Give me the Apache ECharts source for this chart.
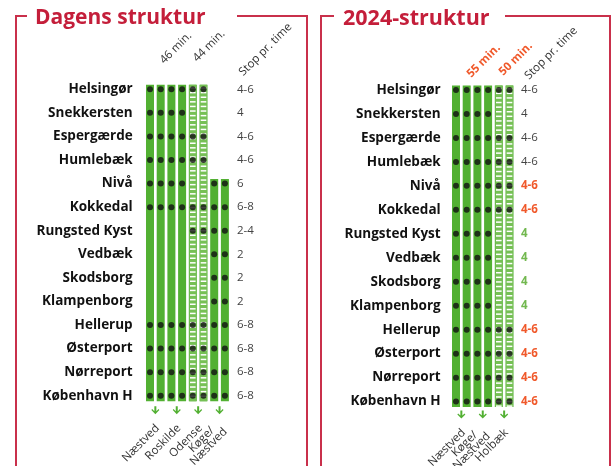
<!DOCTYPE html>
<html>
<head>
<meta charset="utf-8">
<script src="https://cdn.jsdelivr.net/npm/echarts@6/dist/echarts.min.js"></script>
<style>
html, body { margin: 0; padding: 0; background: #fff; }
#chart { width: 616px; height: 466px; }
</style>
</head>
<body>
<div id="chart"></div>
<script>
// stationer fra Helsingør til København H
var stations = ['Helsingør', 'Snekkersten', 'Espergærde', 'Humlebæk', 'Nivå', 'Kokkedal',
    'Rungsted Kyst', 'Vedbæk', 'Skodsborg', 'Klampenborg', 'Hellerup', 'Østerport',
    'Nørreport', 'København H'];

// Dagens struktur
var leftColFirstStation = [0, 0, 0, 0, 0, 0, 4, 4];
var leftColHourly = [0, 0, 0, 0, 1, 1, 0, 0];
var leftStops = [
    [0, 1, 2, 3, 4, 5], [0, 1, 2, 3], [0, 1, 2, 3, 4, 5], [0, 1, 2, 3, 4, 5],
    [0, 1, 2, 3, 6, 7], [0, 1, 2, 3, 4, 5, 6, 7], [4, 5, 6, 7], [6, 7], [6, 7], [6, 7],
    [0, 1, 2, 3, 4, 5, 6, 7], [0, 1, 2, 3, 4, 5, 6, 7], [0, 1, 2, 3, 4, 5, 6, 7],
    [0, 1, 2, 3, 4, 5, 6, 7]
];
var leftStopsPerHour = ['4-6', '4', '4-6', '4-6', '6', '6-8', '2-4', '2', '2', '2', '6-8', '6-8', '6-8', '6-8'];
var leftDestinations = ['Næstved', 'Roskilde', 'Odense', 'Køge/\nNæstved'];
var leftHeaders = ['46 min.', '44 min.', 'Stop pr. time'];

// 2024-struktur
var rightColFirstStation = [0, 0, 0, 0, 0, 0];
var rightColHourly = [0, 0, 0, 0, 1, 1];
var rightStops = [
    [0, 1, 2, 3, 4, 5], [0, 1, 2, 3], [0, 1, 2, 3, 4, 5], [0, 1, 2, 3, 4, 5],
    [0, 1, 2, 3, 4, 5], [0, 1, 2, 3, 4, 5], [0, 1, 2, 3], [0, 1, 2, 3], [0, 1, 2, 3],
    [0, 1, 2, 3], [0, 1, 2, 3, 4, 5], [0, 1, 2, 3, 4, 5], [0, 1, 2, 3, 4, 5],
    [0, 1, 2, 3, 4, 5]
];
var rightStopsPerHour = ['4-6', '4', '4-6', '4-6', '4-6', '4-6', '4', '4', '4', '4', '4-6', '4-6', '4-6', '4-6'];
var rightChange = [0, 0, 0, 0, -1, -1, 1, 1, 1, 1, -1, -1, -1, -1]; // -1 færre, 1 flere
var rightDestinations = ['Næstved', 'Køge/\nNæstved', 'Holbæk'];
var rightHeaders = ['55 min.', '50 min.', 'Stop pr. time'];

var GREEN = '#52b032';
var RED = '#c41e3a';
var ORANGE = '#f0592b';
var FONT = '"Open Sans", sans-serif';
var last = stations.length - 1;

var chart = echarts.init(document.getElementById('chart'));
var measureCtx = document.createElement('canvas').getContext('2d');

function columnItem(firstStation, hourly) {
    return function(params, api) {
        var i = params.dataIndex;
        var top = api.coord([i, firstStation[i]]);
        var bot = api.coord([i, last]);
        var x = top[0] - 4, y = top[1] - 4.5, h = bot[1] + 5.5 - y;
        var children = [{ type: 'rect', shape: { x: x, y: y, width: 8, height: h }, style: { fill: GREEN } }];
        if (hourly[i]) {
            children.push({ type: 'rect', shape: { x: x + 0.5, y: y, width: 7, height: h }, style: { fill: '#76c055' } });
            for (var yy = y + 2.5; yy < y + h - 1.5; yy += 4.6) {
                children.push({ type: 'rect', shape: { x: x + 1.2, y: yy, width: 5.6, height: 1.5 }, style: { fill: '#fff' } });
            }
        }
        return { type: 'group', children: children };
    };
}

function stopsData(stops) {
    var out = [];
    stops.forEach(function(cols, row) {
        cols.forEach(function(c) { out.push([c, row]); });
    });
    return out;
}

function stopTextItem(texts, colorFn, x) {
    return function(params, api) {
        var i = params.dataIndex;
        var p = api.coord([x, i]);
        var c = colorFn(i);
        return {
            type: 'text', x: p[0], y: p[1],
            style: { text: texts[i], fill: c.color, font: c.weight + ' 11.5px ' + FONT, align: 'left', verticalAlign: 'middle' }
        };
    };
}

// pil + skråtstillet destinationsnavn (linjer centreret mod hinanden)
function destItem(names, dy) {
    var font = '11.5px ' + FONT, lh = 10, c = Math.SQRT1_2;
    return function(params, api) {
        var i = params.dataIndex;
        var p = api.coord([i * 2 + 0.5, last]);
        var ax = p[0], ay = p[1] + dy;
        var children = [{
            type: 'path',
            shape: { pathData: 'M3,0 H5 V5 L7.2,2.8 L8,3.8 L4,8 L0,3.8 L0.8,2.8 L3,5 Z', x: ax - 4, y: ay, width: 8, height: 8 },
            style: { fill: GREEN }
        }];
        measureCtx.font = font;
        var lines = names[i].split('\n');
        var w = lines.map(function(s) { return measureCtx.measureText(s).width; });
        var wMax = Math.max.apply(null, w);
        var ex = ax - 2, ey = ay + 16;
        lines.forEach(function(s, k) {
            var perp = (k - (lines.length - 1) / 2) * lh;
            var back = (wMax - w[k]) / 2;
            children.push({
                type: 'text',
                x: ex + perp * c - back * c,
                y: ey + perp * c + back * c,
                rotation: Math.PI / 4,
                style: { text: s, fill: '#333', font: font, align: 'right', verticalAlign: 'top' }
            });
        });
        return { type: 'group', children: children };
    };
}

function headerItem(names, xs, dys, colors, weights) {
    return function(params, api) {
        var i = params.dataIndex;
        var p = api.coord([xs[i], 0]);
        return {
            type: 'text', x: p[0], y: p[1] + dys[i], rotation: Math.PI / 4,
            style: { text: names[i], fill: colors[i], font: weights[i] + ' 11.5px ' + FONT, align: 'left', verticalAlign: 'bottom' }
        };
    };
}

function seq(n) {
    var a = [];
    for (var i = 0; i < n; i++) a.push([i, 0]);
    return a;
}

var yLabel = { color: '#111', fontSize: 13.5, fontWeight: 'bold', fontFamily: FONT };
var frame = { stroke: '#c9304b', lineWidth: 2, fill: null };

option = {
    animation: false,
    title: [{
        text: 'Dagens struktur', left: 30, top: 3,
        textStyle: { color: RED, fontSize: 21, fontWeight: 'bold', fontFamily: FONT }
    }, {
        text: '2024-struktur', left: 338, top: 3,
        textStyle: { color: RED, fontSize: 21.5, fontWeight: 'bold', fontFamily: FONT }
    }],
    graphic: [
        { type: 'polyline', shape: { points: [[27, 16], [16, 16], [16, 470]] }, style: frame },
        { type: 'polyline', shape: { points: [[237, 16], [307, 16], [307, 470]] }, style: frame },
        { type: 'polyline', shape: { points: [[334, 16], [321, 16], [321, 470]] }, style: frame },
        { type: 'polyline', shape: { points: [[505, 16], [610, 16], [610, 470]] }, style: frame }
    ],
    grid: [
        { left: 144.65, top: 77.5, width: 107, height: 14 * 23.57 },
        { left: 450.65, top: 78, width: 85.6, height: 14 * 23.97 }
    ],
    xAxis: [
        { gridIndex: 0, type: 'value', min: -0.5, max: 9.5, show: false },
        { gridIndex: 1, type: 'value', min: -0.5, max: 7.5, show: false }
    ],
    yAxis: [0, 1].map(function(g) {
        return {
            gridIndex: g, type: 'category', data: stations, inverse: true,
            axisLine: { show: false }, axisTick: { show: false }, splitLine: { show: false },
            axisLabel: Object.assign({ margin: g ? 10 : 12 }, yLabel)
        };
    }),
    series: [
        // venstre
        { type: 'custom', xAxisIndex: 0, yAxisIndex: 0, z: 1, data: seq(leftColFirstStation.length),
          renderItem: columnItem(leftColFirstStation, leftColHourly) },
        { type: 'scatter', xAxisIndex: 0, yAxisIndex: 0, z: 3, symbolSize: 6, itemStyle: { color: '#111' },
          data: stopsData(leftStops) },
        { type: 'custom', xAxisIndex: 0, yAxisIndex: 0, data: seq(stations.length),
          renderItem: stopTextItem(leftStopsPerHour, function() { return { color: '#444', weight: 'normal' }; }, 8.13) },
        { type: 'custom', xAxisIndex: 0, yAxisIndex: 0, data: seq(leftDestinations.length),
          renderItem: destItem(leftDestinations, 10.5) },
        { type: 'custom', xAxisIndex: 0, yAxisIndex: 0, data: seq(leftHeaders.length),
          renderItem: headerItem(leftHeaders, [1.5, 4.6, 8.9], [-23, -25, -11], ['#333', '#333', '#333'], ['normal', 'normal', 'normal']) },
        // højre
        { type: 'custom', xAxisIndex: 1, yAxisIndex: 1, z: 1, data: seq(rightColFirstStation.length),
          renderItem: columnItem(rightColFirstStation, rightColHourly) },
        { type: 'scatter', xAxisIndex: 1, yAxisIndex: 1, z: 3, symbolSize: 6, itemStyle: { color: '#111' },
          data: stopsData(rightStops) },
        { type: 'custom', xAxisIndex: 1, yAxisIndex: 1, data: seq(stations.length),
          renderItem: stopTextItem(rightStopsPerHour, function(i) {
              if (rightChange[i] < 0) return { color: ORANGE, weight: 'bold' };
              if (rightChange[i] > 0) return { color: '#72b84f', weight: 'bold' };
              return { color: '#444', weight: 'normal' };
          }, 6.07) },
        { type: 'custom', xAxisIndex: 1, yAxisIndex: 1, data: seq(rightDestinations.length),
          renderItem: destItem(rightDestinations, 9) },
        { type: 'custom', xAxisIndex: 1, yAxisIndex: 1, data: seq(rightHeaders.length),
          renderItem: headerItem(rightHeaders, [1.6, 4.6, 7.0], [-10, -12, -8], [ORANGE, ORANGE, '#333'], ['bold', 'bold', 'normal']) }
    ]
};
chart.setOption(option);
</script>
</body>
</html>
